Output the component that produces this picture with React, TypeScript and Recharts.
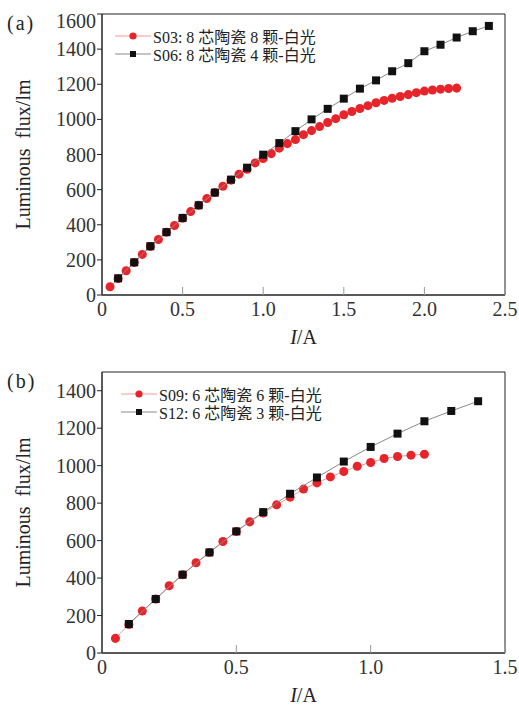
import React from 'react'
import { ScatterChart, Scatter, XAxis, YAxis, ZAxis, ReferenceArea, Legend, Label } from 'recharts'

const FONT = '"Liberation Serif", "Noto Sans CJK SC", serif'

// panel (a)
const currentA_S03 = [0.05, 0.1, 0.15, 0.2, 0.25, 0.3, 0.35, 0.4, 0.45, 0.5, 0.55, 0.6, 0.65, 0.7, 0.75, 0.8, 0.85, 0.9, 0.95, 1.0, 1.05, 1.1, 1.15, 1.2, 1.25, 1.3, 1.35, 1.4, 1.45, 1.5, 1.55, 1.6, 1.65, 1.7, 1.75, 1.8, 1.85, 1.9, 1.95, 2.0, 2.05, 2.1, 2.15, 2.2]
const fluxA_S03 = [47, 93, 138, 185, 231, 276, 316, 357, 396, 437, 475, 511, 549, 583, 619, 654, 688, 716, 752, 777, 805, 836, 862, 885, 913, 936, 959, 982, 1004, 1026, 1045, 1062, 1078, 1095, 1108, 1120, 1130, 1141, 1152, 1161, 1167, 1172, 1176, 1178]
const currentA_S06 = [0.1, 0.2, 0.3, 0.4, 0.5, 0.6, 0.7, 0.8, 0.9, 1.0, 1.1, 1.2, 1.3, 1.4, 1.5, 1.6, 1.7, 1.8, 1.9, 2.0, 2.1, 2.2, 2.3, 2.4]
const fluxA_S06 = [95, 186, 278, 358, 439, 511, 583, 657, 725, 799, 865, 933, 1000, 1060, 1118, 1175, 1222, 1274, 1320, 1388, 1425, 1466, 1502, 1532]
const xTicksA = [0, 0.5, 1.0, 1.5, 2.0, 2.5]
const yTicksA = [0, 200, 400, 600, 800, 1000, 1200, 1400, 1600]

// panel (b)
const currentB_S09 = [0.05, 0.1, 0.15, 0.2, 0.25, 0.3, 0.35, 0.4, 0.45, 0.5, 0.55, 0.6, 0.65, 0.7, 0.75, 0.8, 0.85, 0.9, 0.95, 1.0, 1.05, 1.1, 1.15, 1.2]
const fluxB_S09 = [78, 152, 224, 288, 359, 418, 482, 537, 595, 649, 700, 747, 791, 832, 875, 908, 940, 969, 997, 1017, 1038, 1049, 1056, 1061]
const currentB_S12 = [0.1, 0.2, 0.3, 0.4, 0.5, 0.6, 0.7, 0.8, 0.9, 1.0, 1.1, 1.2, 1.3, 1.4]
const fluxB_S12 = [155, 288, 418, 537, 649, 752, 850, 937, 1022, 1100, 1171, 1237, 1292, 1344]
const xTicksB = [0, 0.5, 1.0, 1.5]
const yTicksB = [0, 200, 400, 600, 800, 1000, 1200, 1400]

const namesA = ['S03: 8 芯陶瓷 8 颗-白光', 'S06: 8 芯陶瓷 4 颗-白光']
const namesB = ['S09: 6 芯陶瓷 6 颗-白光', 'S12: 6 芯陶瓷 3 颗-白光']

const RED = '#e8242b'
const RED_LINE = '#f09a9a'
const BLACK = '#111'
const GRAY_LINE = '#8a8a8a'

const toPoints = (xs: number[], ys: number[]) => xs.map((x, i) => ({ x, y: ys[i] }))

const fmtX = (v: number) => (v === 0 ? '0' : v.toFixed(1))

function LegendBox({ names }: { names: string[] }) {
  return (
    <div style={{ fontFamily: FONT, fontSize: 16, color: '#222' }}>
      {names.map((n, i) => (
        <div key={n} style={{ display: 'flex', alignItems: 'center', height: 18, whiteSpace: 'nowrap' }}>
          <svg width={37} height={12} style={{ marginRight: 1 }}>
            <line x1={0} y1={6} x2={36} y2={6} stroke={i === 0 ? RED_LINE : GRAY_LINE} strokeWidth={1} />
            {i === 0 ? (
              <circle cx={18} cy={6} r={3.6} fill={RED} />
            ) : (
              <rect x={15} y={3} width={6} height={6} fill={BLACK} />
            )}
          </svg>
          <span>{n}</span>
        </div>
      ))}
    </div>
  )
}

function Panel({
  tag, names, red, black, xMax, yMax, xTicks, yTicks, legendLeft, shiftTop,
}: {
  tag: string
  names: string[]
  red: { x: number; y: number }[]
  black: { x: number; y: number }[]
  xMax: number
  yMax: number
  xTicks: number[]
  yTicks: number[]
  legendLeft: number
  shiftTop: boolean
}) {
  const renderYTick = (props: any) => {
    const { x, y, payload } = props
    const dy = shiftTop && payload.value === yMax ? 7 : 0
    return (
      <text x={x} y={y + dy} dy="0.35em" textAnchor="end" fontFamily={FONT} fontSize={20} fill="#333">
        {payload.value}
      </text>
    )
  }
  return (
    <div style={{ position: 'relative', width: 519, height: 350 }}>
      <ScatterChart width={519} height={350} margin={{ top: 14, right: 14, left: 42, bottom: 25 }}>
        <XAxis
          type="number"
          dataKey="x"
          domain={[0, xMax]}
          ticks={xTicks}
          tickFormatter={fmtX}
          height={30}
          tickSize={-8}
          tickMargin={15}
          axisLine={{ stroke: '#222' }}
          tickLine={{ stroke: '#999' }}
          tick={{ fontFamily: FONT, fontSize: 20, fill: '#333' }}
        >
          <Label
            content={(p: any) => {
              const vb = p.viewBox || { x: 102, width: 403, y: 295 }
              return (
                <text x={vb.x + vb.width / 2} y={344} textAnchor="middle" fontFamily={FONT} fontSize={20} fill="#222">
                  <tspan fontStyle="italic">I</tspan>
                  <tspan>/A</tspan>
                </text>
              )
            }}
          />
        </XAxis>
        <YAxis
          type="number"
          dataKey="y"
          domain={[0, yMax]}
          ticks={yTicks}
          width={60}
          tickSize={5}
          tickMargin={1}
          axisLine={{ stroke: '#222' }}
          tickLine={{ stroke: '#222' }}
          tick={renderYTick}
        >
          <Label
            content={(p: any) => {
              const vb = p.viewBox || { y: 14, height: 281 }
              const cy = vb.y + vb.height / 2
              return (
                <text
                  x={22.5}
                  y={cy}
                  transform={`rotate(-90 22.5 ${cy})`}
                  textAnchor="middle"
                  dy="0.35em"
                  fontFamily={FONT}
                  fontSize={20}
                  fill="#222"
                  style={{ whiteSpace: 'pre' }}
                >
                  {'Luminous  flux/lm'}
                </text>
              )
            }}
          />
        </YAxis>
        <ZAxis zAxisId="dot" range={[44, 44]} />
        <ZAxis zAxisId="sq" range={[38, 38]} />
        <ReferenceArea x1={0} x2={xMax} y1={0} y2={yMax} fill="none" stroke="#222" strokeWidth={1} />
        <Scatter
          name={names[0]}
          data={red}
          zAxisId="dot"
          shape="circle"
          fill={RED}
          line={{ stroke: RED_LINE, strokeWidth: 1 }}
          isAnimationActive={false}
        />
        <Scatter
          name={names[1]}
          data={black}
          zAxisId="sq"
          shape="square"
          fill={BLACK}
          line={{ stroke: GRAY_LINE, strokeWidth: 1 }}
          isAnimationActive={false}
        />
        <Legend
          layout="vertical"
          verticalAlign="middle"
          align="center"
          wrapperStyle={{ position: 'absolute', left: legendLeft, top: 27, width: 'auto' }}
          content={() => <LegendBox names={names} />}
        />
      </ScatterChart>
      <div
        style={{
          position: 'absolute', left: 7, top: 13, fontFamily: FONT, fontSize: 20,
          color: '#222', letterSpacing: 2, lineHeight: '20px',
        }}
      >
        {tag}
      </div>
    </div>
  )
}

export default function App() {
  return (
    <div style={{ position: 'absolute', left: 0, top: 0, width: 519, height: 708, background: '#fff' }}>
      <Panel
        tag="(a)"
        names={namesA}
        red={toPoints(currentA_S03, fluxA_S03)}
        black={toPoints(currentA_S06, fluxA_S06)}
        xMax={2.5}
        yMax={1600}
        xTicks={xTicksA}
        yTicks={yTicksA}
        legendLeft={115}
        shiftTop={true}
      />
      <div style={{ height: 8 }} />
      <Panel
        tag="(b)"
        names={namesB}
        red={toPoints(currentB_S09, fluxB_S09)}
        black={toPoints(currentB_S12, fluxB_S12)}
        xMax={1.5}
        yMax={1500}
        xTicks={xTicksB}
        yTicks={yTicksB}
        legendLeft={121}
        shiftTop={false}
      />
    </div>
  )
}
